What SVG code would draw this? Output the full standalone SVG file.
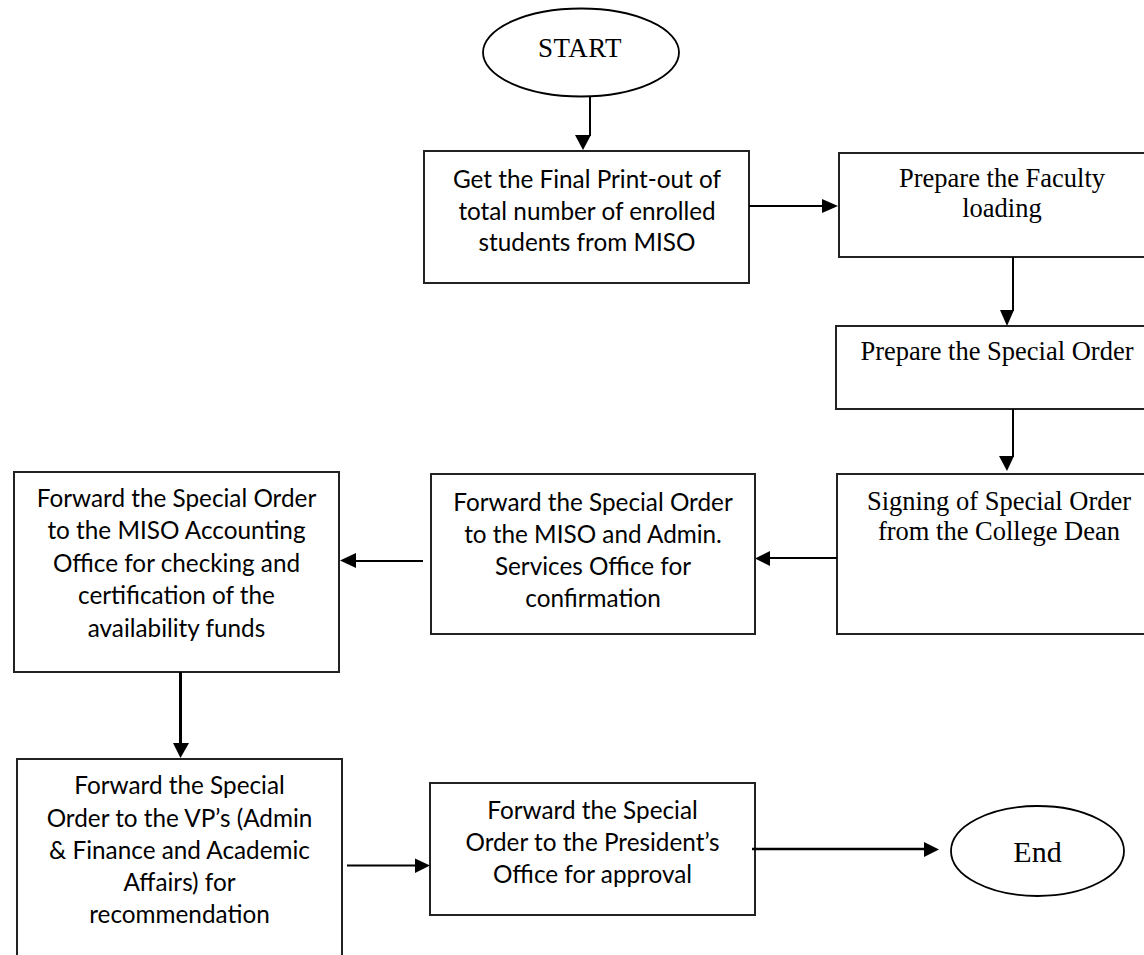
<svg xmlns="http://www.w3.org/2000/svg" width="1144" height="955" viewBox="0 0 1144 955">
<style>
.box{fill:#fff;stroke:#222;stroke-width:2}
.term{fill:#fff;stroke:#000;stroke-width:1.8}
.sans{font-family:Lato,"Liberation Sans",sans-serif;font-size:24.3px;fill:#000;text-anchor:middle}
.serif{font-family:"Liberation Serif","Times New Roman",serif;font-size:26.5px;fill:#000;text-anchor:middle}
.ln{stroke:#000;stroke-width:2;fill:none}
.hd{fill:#000;stroke:none}
</style>
<rect width="1144" height="955" fill="#fff"/>
<g id="start">
<ellipse class="term" cx="581" cy="52.5" rx="98" ry="44"/>
<text class="serif" x="580" y="57" style="font-size:27px;letter-spacing:0.5px">START</text>
</g>
<g id="n1">
<rect class="box" x="424" y="151" width="325" height="132"/>
<text class="sans" x="587" y="188">Get the Final Print-out of</text>
<text class="sans" x="587" y="219.5">total number of enrolled</text>
<text class="sans" x="587" y="251">students from MISO</text>
</g>
<g id="n2">
<rect class="box" x="839" y="153" width="330" height="104"/>
<text class="serif" x="1002" y="187">Prepare the Faculty</text>
<text class="serif" x="1002" y="217">loading</text>
</g>
<g id="n3">
<rect class="box" x="836" y="326" width="330" height="83"/>
<text class="serif" x="997" y="360">Prepare the Special Order</text>
</g>
<g id="n4">
<rect class="box" x="837" y="474" width="330" height="160"/>
<text class="serif" x="999" y="510">Signing of Special Order</text>
<text class="serif" x="999" y="540">from the College Dean</text>
</g>
<g id="n5">
<rect class="box" x="431" y="474" width="324" height="160"/>
<text class="sans" x="593" y="511">Forward the Special Order</text>
<text class="sans" x="593" y="543">to the MISO and Admin.</text>
<text class="sans" x="593" y="575">Services Office for</text>
<text class="sans" x="593" y="607">confirmation</text>
</g>
<g id="n6">
<rect class="box" x="14" y="472" width="325" height="200"/>
<text class="sans" x="176.5" y="507">Forward the Special Order</text>
<text class="sans" x="176.5" y="539">to the MISO Accounting</text>
<text class="sans" x="176.5" y="572">Office for checking and</text>
<text class="sans" x="176.5" y="604">certification of the</text>
<text class="sans" x="176.5" y="637">availability funds</text>
</g>
<g id="n7">
<rect class="box" x="17" y="759" width="325" height="210"/>
<text class="sans" x="179.5" y="794">Forward the Special</text>
<text class="sans" x="179.5" y="827">Order to the VP’s (Admin</text>
<text class="sans" x="179.5" y="859">&amp; Finance and Academic</text>
<text class="sans" x="179.5" y="891">Affairs) for</text>
<text class="sans" x="179.5" y="923">recommendation</text>
</g>
<g id="n8">
<rect class="box" x="430" y="783" width="325" height="132"/>
<text class="sans" x="592.5" y="819">Forward the Special</text>
<text class="sans" x="592.5" y="851">Order to the President’s</text>
<text class="sans" x="592.5" y="883">Office for approval</text>
</g>
<g id="end">
<ellipse class="term" cx="1037.5" cy="851" rx="86.5" ry="45"/>
<text class="serif" x="1037.5" y="862" style="font-size:30px">End</text>
</g>
<g id="connectors">
<line class="ln" x1="590" y1="97" x2="590" y2="136"/>
<polygon class="hd" points="575,135 591,135 583,150"/>
<line class="ln" x1="749" y1="206" x2="823" y2="206"/>
<polygon class="hd" points="822,199 822,213 838,206"/>
<line class="ln" x1="1013" y1="257" x2="1013" y2="311"/>
<polygon class="hd" points="1000,310 1014,310 1007,326"/>
<line class="ln" x1="1013" y1="409" x2="1013" y2="457"/>
<polygon class="hd" points="999,456 1014,456 1007,471"/>
<line class="ln" x1="837" y1="558" x2="769" y2="558"/>
<polygon class="hd" points="770,551 770,566 755,558.5"/>
<line class="ln" x1="423" y1="561" x2="355" y2="561"/>
<polygon class="hd" points="356,553 356,568 340,560.5"/>
<line class="ln" style="stroke-width:3" x1="180.5" y1="672" x2="180.5" y2="744"/>
<polygon class="hd" points="173,743 189,743 180.5,758"/>
<line class="ln" x1="347" y1="865.5" x2="416" y2="865.5"/>
<polygon class="hd" points="415,858.5 415,873 430,865.5"/>
<line class="ln" style="stroke-width:2.5" x1="752" y1="849" x2="925" y2="849"/>
<polygon class="hd" points="924,842 924,857 939,849.5"/>
</g>
</svg>
